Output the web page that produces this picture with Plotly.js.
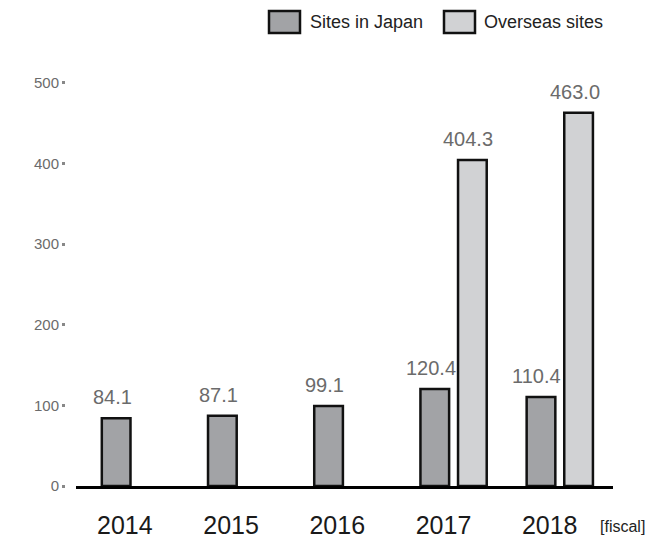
<!DOCTYPE html>
<html>
<head>
<meta charset="utf-8">
<script src="https://cdn.plot.ly/plotly-3.0.1.min.js"></script>
<style>html,body{margin:0;padding:0;background:#fff;}#chart{width:671px;height:544px;}</style>
</head>
<body>
<div id="chart"></div>
<script>
// ---- data ----
const years = ["2014", "2015", "2016", "2017", "2018"];
const japanValues = [84.1, 87.1, 99.1, 120.4, 110.4];
const overseasValues = [null, null, null, 404.3, 463.0];
const japanName = "Sites in Japan";
const overseasName = "Overseas sites";
const yTicks = [0, 100, 200, 300, 400, 500];
const unitLabel = "[fiscal]";

// ---- layout geometry ----
const W = 671, H = 544;
const M = {l: 65, r: 58, t: 60, b: 58};
const PW = W - M.l - M.r, PH = H - M.t - M.b;
const px2x = p => (p - M.l) / PW;
const px2y = p => 1 - (p - M.t) / PH;

const barW = 0.27;
const japanOffset = -0.217;
const overseasOffset = 0.137;
const font = "Liberation Sans, Arial, Helvetica, sans-serif";

const traces = [
  {type: "bar", name: japanName, x: years, y: japanValues,
   offset: japanOffset, width: barW,
   marker: {color: "#a2a3a6", line: {color: "#111", width: 2.5}},
   hoverinfo: "x+y"},
  {type: "bar", name: overseasName, x: years, y: overseasValues,
   offset: overseasOffset, width: barW,
   marker: {color: "#d1d2d4", line: {color: "#111", width: 2.5}},
   hoverinfo: "x+y"}
];

const annotations = [];
function addLabels(vals, off) {
  vals.forEach((v, i) => {
    if (v === null || v === undefined) return;
    annotations.push({
      xref: "x", yref: "y", x: i + off + barW / 2, y: v,
      text: v.toFixed(1), showarrow: false,
      xanchor: "center", yanchor: "bottom", yshift: 8, xshift: -4,
      font: {family: font, size: 20, color: "#6b6b6b"}
    });
  });
}
addLabels(japanValues, japanOffset);
addLabels(overseasValues, overseasOffset);

// legend (drawn manually for large swatches)
const shapes = [];
function legendItem(x0, x1, textX, color, label) {
  shapes.push({type: "rect", xref: "paper", yref: "paper",
    x0: px2x(x0), x1: px2x(x1), y0: px2y(33), y1: px2y(11),
    fillcolor: color, line: {color: "#111", width: 2.5}});
  annotations.push({xref: "paper", yref: "paper", x: px2x(textX), y: px2y(22),
    xanchor: "left", yanchor: "middle", text: label, showarrow: false,
    font: {family: font, size: 18, color: "#222"}});
}
legendItem(269, 300, 308, "#a2a3a6", japanName);
legendItem(444, 475, 482, "#d1d2d4", overseasName);

annotations.push({xref: "paper", yref: "paper", x: px2x(598), y: px2y(526),
  xanchor: "left", yanchor: "middle", text: unitLabel, showarrow: false,
  font: {family: font, size: 16, color: "#222"}});

const layout = {
  width: W, height: H, margin: M,
  paper_bgcolor: "#fff", plot_bgcolor: "#fff",
  showlegend: false,
  barmode: "overlay",
  font: {family: font},
  xaxis: {
    type: "category", domain: [px2x(76), 1], range: [-0.46, 4.596],
    showline: true, linecolor: "#000", linewidth: 3,
    ticks: "", showgrid: false, zeroline: false,
    tickfont: {family: font, size: 25, color: "#1a1a1a"},
    ticklabelstandoff: 15, fixedrange: true
  },
  yaxis: {
    anchor: "free", position: 0,
    range: [0, 528.5], tickvals: yTicks,
    ticks: "outside", ticklen: 3, tickwidth: 3, tickcolor: "#888",
    showline: false, showgrid: false, zeroline: false,
    tickfont: {family: font, size: 15, color: "#6b6b6b"}, fixedrange: true
  },
  annotations: annotations,
  shapes: shapes
};

Plotly.newPlot("chart", traces, layout, {displayModeBar: false, staticPlot: true});
</script>
</body>
</html>
